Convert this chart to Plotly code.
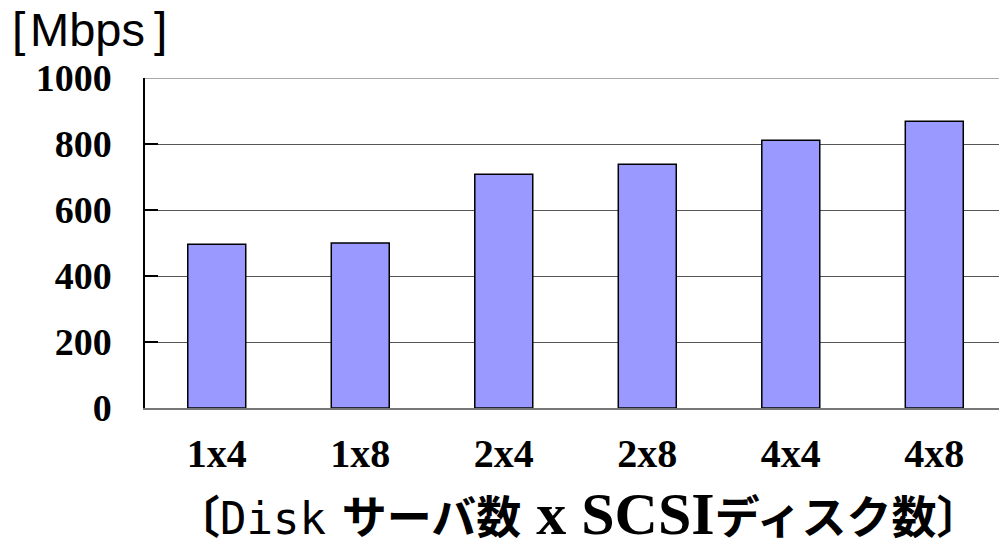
import plotly.graph_objects as go

categories = ["1x4", "1x8", "2x4", "2x8", "4x4", "4x8"]
throughput_mbps = [496, 500, 708, 739, 811, 869]
y_ticks = [0, 200, 400, 600, 800, 1000]

W, H = 999, 548
L, R, T, B = 145, 0, 78, 140
pw, ph = W - L - R, H - T - B

def px(x):
    return (x - L) / pw

def py(y):
    return (H - B - y) / ph

fig = go.Figure()
fig.add_trace(go.Bar(
    x=categories, y=throughput_mbps,
    width=0.404,
    marker=dict(color="#9999FF", line=dict(color="#000000", width=1.5)),
))

# top gridline (plotly omits the grid line at the range edge)
fig.add_shape(type="line", xref="paper", yref="y", x0=0, x1=1,
              y0=y_ticks[-1], y1=y_ticks[-1],
              line=dict(color="#555555", width=1), layer="below")

serif = "Liberation Serif"
cjk = "Noto Sans CJK JP"
mono = "DejaVu Sans Mono"

title_html = (
    f'<span style="font-family:{cjk};font-weight:bold;font-size:45px">〔</span>'
    f'<span style="font-family:{mono};font-size:44px">Disk</span>'
    f'<span style="font-family:{mono};font-size:26px"> </span>'
    f'<span style="font-family:{cjk};font-weight:bold;font-size:45px">サーバ数</span>'
    f'<span style="font-family:{serif};font-weight:bold;font-size:60px"> x SCSI</span>'
    f'<span style="font-family:{cjk};font-weight:bold;font-size:45px">ディスク数〕</span>'
)

fig.update_layout(
    width=W, height=H,
    margin=dict(l=L, r=R, t=T, b=B, pad=0),
    paper_bgcolor="white", plot_bgcolor="white",
    showlegend=False,
    xaxis=dict(
        range=[-0.5, 5.451],
        showgrid=False,
        showline=True, linecolor="#777777", linewidth=1.5,
        ticks="",
        tickfont=dict(family=serif, size=40, color="black", weight="bold"),
        ticklabelstandoff=9,
        zeroline=False,
    ),
    yaxis=dict(
        range=[0, 1000],
        tickvals=y_ticks,
        ticktext=[str(v) for v in y_ticks],
        showgrid=True, gridcolor="#555555", gridwidth=1,
        showline=True, linecolor="black", linewidth=1.5,
        ticks="inside", ticklen=13, tickcolor="black", tickwidth=1.5,
        tickfont=dict(family=serif, size=38, color="black", weight="bold"),
        ticklabelstandoff=24,
        zeroline=False,
    ),
    annotations=[
        dict(text="[", xref="paper", yref="paper", x=px(10), y=py(29),
             xanchor="left", yanchor="middle", showarrow=False,
             font=dict(family="Liberation Sans", size=48, color="black")),
        dict(text="Mbps", xref="paper", yref="paper", x=px(28.5), y=py(29),
             xanchor="left", yanchor="middle", showarrow=False,
             font=dict(family="Liberation Sans", size=47, color="black")),
        dict(text="]", xref="paper", yref="paper", x=px(152), y=py(29),
             xanchor="left", yanchor="middle", showarrow=False,
             font=dict(family="Liberation Sans", size=48, color="black")),
        dict(
            text=title_html,
            xref="paper", yref="paper",
            x=px(578), y=py(514), xanchor="center", yanchor="middle",
            showarrow=False,
            font=dict(family=cjk, size=45, color="black"),
        ),
    ],
)

fig.write_html("out.html")
